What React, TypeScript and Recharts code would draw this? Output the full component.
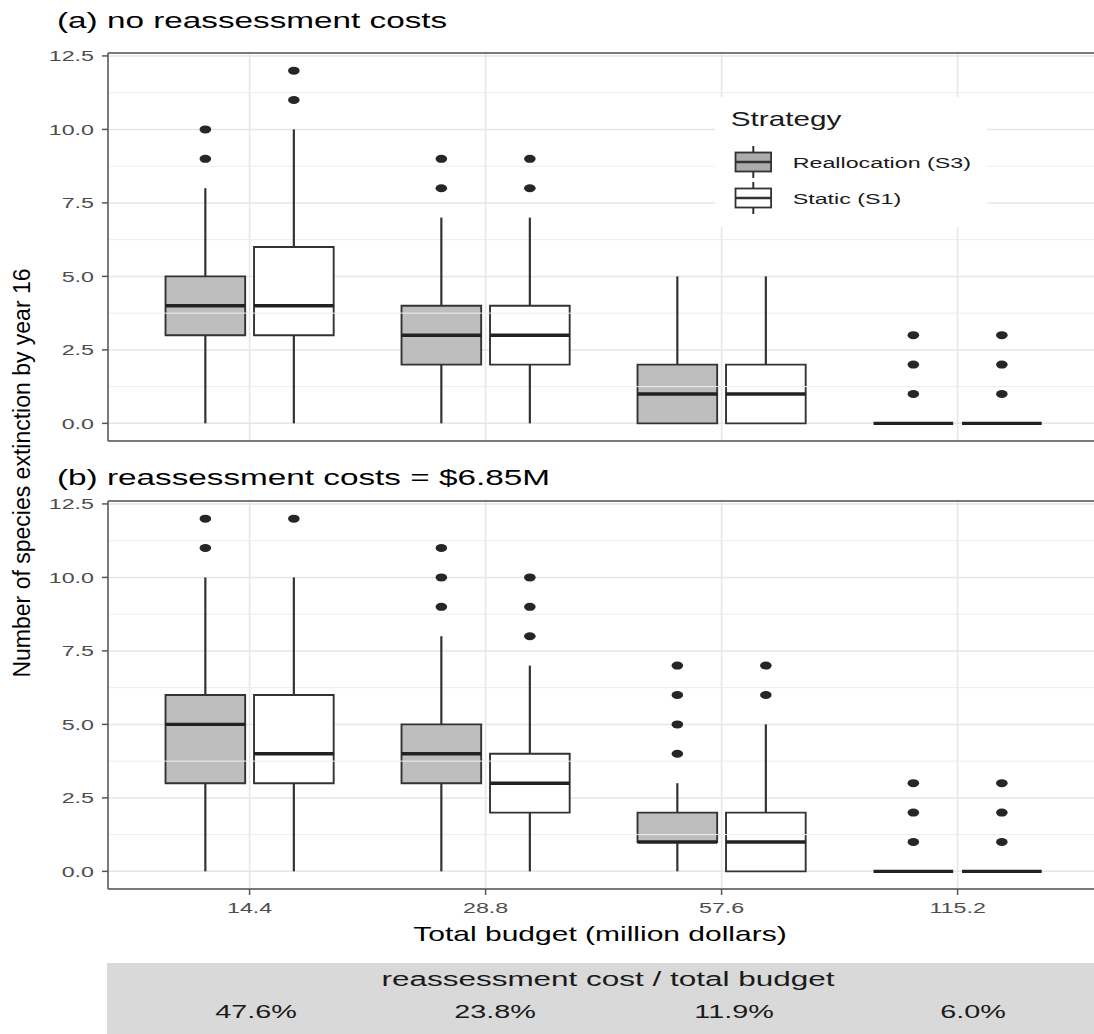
import React from 'react'
import {
  ComposedChart,
  XAxis,
  YAxis,
  CartesianGrid,
  Scatter,
  ReferenceArea,
  ReferenceLine
} from 'recharts'

const budgets = ['14.4', '28.8', '57.6', '115.2']
const costShare = ['47.6%', '23.8%', '11.9%', '6.0%']
const strategies = ['Reallocation (S3)', 'Static (S1)']
const yTicks = [0, 2.5, 5, 7.5, 10, 12.5]
const yMinor = [1.25, 3.75, 6.25, 8.75, 11.25]
const xTicks = [1, 2, 3, 4]

// [min, q1, median, q3, max] per budget
const aRealloc = [[0, 3, 4, 5, 8], [0, 2, 3, 4, 7], [0, 0, 1, 2, 5], [0, 0, 0, 0, 0]]
const aStatic = [[0, 3, 4, 6, 10], [0, 2, 3, 4, 7], [0, 0, 1, 2, 5], [0, 0, 0, 0, 0]]
const aReallocOut = [[9, 10], [8, 9], [], [1, 2, 3]]
const aStaticOut = [[11, 12], [8, 9], [], [1, 2, 3]]

const bRealloc = [[0, 3, 5, 6, 10], [0, 3, 4, 5, 8], [0, 1, 1, 2, 3], [0, 0, 0, 0, 0]]
const bStatic = [[0, 3, 4, 6, 10], [0, 2, 3, 4, 7], [0, 0, 1, 2, 5], [0, 0, 0, 0, 0]]
const bReallocOut = [[11, 12], [9, 10, 11], [4, 5, 6, 7], [1, 2, 3]]
const bStaticOut = [[12], [8, 9, 10], [6, 7], [1, 2, 3]]

const FONT = '"Liberation Sans", Arial, sans-serif'
const SX = 1.5
const FILLS = ['#bebebe', '#ffffff']
const DODGE = 0.1875
const HALF = 0.16875
const BOX_STROKE = '#333333'
const BORDER = '#555555'

type TextProps = {
  x: number
  y: number
  size: number
  anchor?: 'start' | 'middle' | 'end'
  fill?: string
  children: React.ReactNode
}

function StretchText({ x, y, size, anchor = 'start', fill = '#1a1a1a', children }: TextProps) {
  return (
    <text
      transform={`translate(${x} ${y}) scale(${SX} 1)`}
      fontSize={size}
      textAnchor={anchor}
      fill={fill}
      fontFamily={FONT}
    >
      {children}
    </text>
  )
}

const YTick = (p: any) => (
  <g transform={`translate(${p.x},${p.y})`}>
    <text transform={`scale(${SX} 1)`} textAnchor="end" dy="0.355em" fontSize={15.5} fill="#4d4d4d" fontFamily={FONT}>
      {Number(p.payload.value).toFixed(1)}
    </text>
  </g>
)

const XTick = (p: any) => (
  <g transform={`translate(${p.x},${p.y})`}>
    <text transform={`scale(${SX} 1)`} textAnchor="middle" dy="0.71em" fontSize={15.5} fill="#4d4d4d" fontFamily={FONT}>
      {budgets[p.payload.value - 1]}
    </text>
  </g>
)

const NoTick = () => <g />

const Dot = (p: any) => <ellipse cx={p.cx} cy={p.cy} rx={5.8} ry={4} fill="#262626" />

type PanelProps = {
  stats: number[][][]
  outliers: number[][][]
  top: number
  marginTop: number
  height: number
  showX: boolean
}

function Panel({ stats, outliers, top, marginTop, height, showX }: PanelProps) {
  const whiskers: React.ReactNode[] = []
  const boxes: React.ReactNode[] = []
  const medians: React.ReactNode[] = []
  const dots: React.ReactNode[] = []

  stats.forEach((series, s) => {
    const off = s === 0 ? -DODGE : DODGE
    series.forEach((v, i) => {
      const c = i + 1 + off
      whiskers.push(
        <ReferenceLine key={`wl${s}${i}`} segment={[{ x: c, y: v[0] }, { x: c, y: v[1] }]} stroke={BOX_STROKE} strokeWidth={2.2} />,
        <ReferenceLine key={`wh${s}${i}`} segment={[{ x: c, y: v[3] }, { x: c, y: v[4] }]} stroke={BOX_STROKE} strokeWidth={2.2} />
      )
      boxes.push(
        <ReferenceArea
          key={`b${s}${i}`}
          x1={c - HALF}
          x2={c + HALF}
          y1={v[1]}
          y2={v[3]}
          fill={FILLS[s]}
          fillOpacity={1}
          stroke={BOX_STROKE}
          strokeWidth={1.9}
        />
      )
      medians.push(
        <ReferenceLine key={`m${s}${i}`} segment={[{ x: c - HALF, y: v[2] }, { x: c + HALF, y: v[2] }]} stroke="#222" strokeWidth={3.4} />
      )
    })
    const pts = outliers[s].flatMap((vals, i) => vals.map(y => ({ x: i + 1 + off, y })))
    dots.push(<Scatter key={`o${s}`} data={pts} dataKey="y" isAnimationActive={false} shape={Dot} />)
  })

  return (
    <div style={{ position: 'absolute', left: 0, top }}>
      <ComposedChart width={1110} height={height} margin={{ top: marginTop, right: 10.8, bottom: 0, left: 0 }}>
        <CartesianGrid stroke="#e6e6e6" strokeWidth={1.5} />
        <XAxis
          type="number"
          dataKey="x"
          domain={[0.4, 4.6]}
          ticks={xTicks}
          allowDataOverflow
          height={showX ? 40 : 4}
          axisLine={false}
          tickLine={showX ? { stroke: '#555', strokeWidth: 1.5 } : false}
          tickSize={6}
          tickMargin={7}
          tick={showX ? XTick : NoTick}
        />
        <YAxis
          type="number"
          domain={[-0.6, 12.6]}
          ticks={yTicks}
          allowDataOverflow
          width={108}
          axisLine={false}
          tickLine={{ stroke: '#555', strokeWidth: 1.5 }}
          tickSize={6}
          tickMargin={8}
          tick={YTick}
        />
        {yMinor.map(v => (
          <ReferenceLine key={`g${v}`} y={v} stroke="#ededed" strokeWidth={1} />
        ))}
        {whiskers}
        {boxes}
        {medians}
        {dots}
        {/* panel border: right side falls outside the cropped picture */}
        <ReferenceLine y={12.6} stroke={BORDER} strokeWidth={1.5} />
        <ReferenceLine y={-0.6} stroke={BORDER} strokeWidth={1.5} />
        <ReferenceLine x={0.4} stroke={BORDER} strokeWidth={1.5} />
      </ComposedChart>
    </div>
  )
}

function Overlay() {
  const keyCenters = [162, 198]
  return (
    <svg width={1094} height={1034} style={{ position: 'absolute', left: 0, top: 0, pointerEvents: 'none' }}>
      <StretchText x={57} y={28} size={22.2} fill="#000">(a) no reassessment costs</StretchText>
      <StretchText x={57} y={484.5} size={22.2} fill="#000">(b) reassessment costs = $6.85M</StretchText>

      {/* legend */}
      <rect x={715} y={97} width={272} height={130} fill="#ffffff" />
      <StretchText x={730.7} y={126} size={19.8}>Strategy</StretchText>
      {strategies.map((name, i) => {
        const cy = keyCenters[i]
        return (
          <g key={name}>
            <line x1={753.3} x2={753.3} y1={cy - 16} y2={cy + 16} stroke="#333" strokeWidth={2} />
            <rect x={735.5} y={cy - 9.5} width={35.6} height={19} fill={i === 0 ? '#ababab' : '#fff'} stroke="#333" strokeWidth={1.8} />
            <line x1={735.5} x2={771.1} y1={cy} y2={cy} stroke="#333" strokeWidth={2.6} />
            <StretchText x={792.7} y={cy + 5.5} size={15.5}>{name}</StretchText>
          </g>
        )
      })}

      {/* axis titles */}
      <StretchText x={600} y={941} size={20} anchor="middle" fill="#000">Total budget (million dollars)</StretchText>
      <text
        transform="translate(30 473) rotate(-90)"
        fontSize={23}
        textAnchor="middle"
        fill="#000"
        fontFamily={FONT}
      >
        Number of species extinction by year 16
      </text>

      {/* cost share table */}
      <rect x={107} y={963} width={987} height={71} fill="#d9d9d9" />
      <StretchText x={608} y={986} size={21} anchor="middle">reassessment cost / total budget</StretchText>
      {costShare.map((c, i) => (
        <StretchText key={c} x={256 + i * 239} y={1018} size={19.2} anchor="middle">{c}</StretchText>
      ))}
    </svg>
  )
}

export default function App() {
  return (
    <div style={{ position: 'absolute', left: 0, top: 0, width: 1094, height: 1034, overflow: 'hidden', background: '#fff' }}>
      <Panel stats={[aRealloc, aStatic]} outliers={[aReallocOut, aStaticOut]} top={0} marginTop={53} height={445} showX={false} />
      <Panel stats={[bRealloc, bStatic]} outliers={[bReallocOut, bStaticOut]} top={460} marginTop={41} height={469} showX />
      <Overlay />
    </div>
  )
}
